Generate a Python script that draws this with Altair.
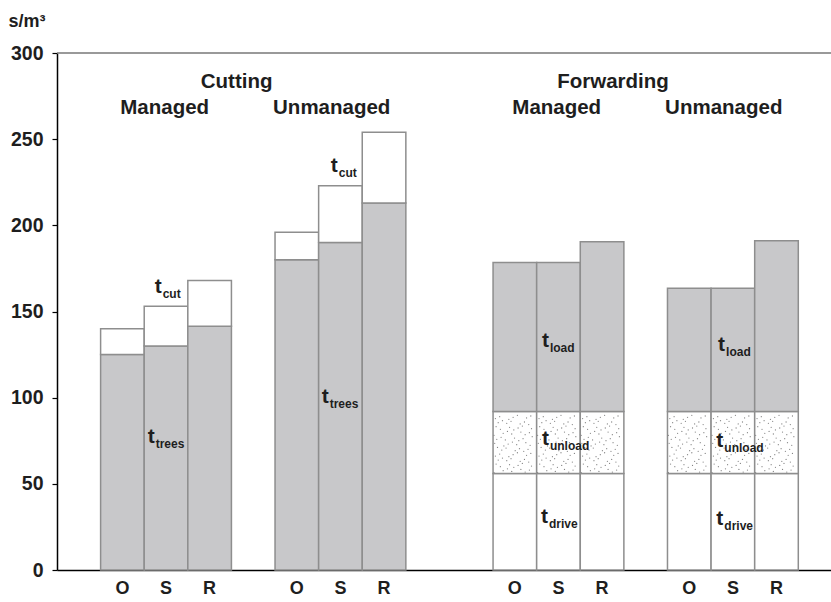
import altair as alt
import pandas as pd
import numpy as np

# ---- values (s/m3) ----
conditions = ["O", "S", "R"]

cut_managed_trees = [125, 130, 141.5]
cut_managed_cut = [15, 23, 26.5]
cut_unmanaged_trees = [180, 190, 213]
cut_unmanaged_cut = [16, 33, 41]

fwd_managed_drive = [56, 56, 56]
fwd_managed_unload = [36, 36, 36]
fwd_managed_load = [86.5, 86.5, 98.5]
fwd_unmanaged_drive = [56, 56, 56]
fwd_unmanaged_unload = [36, 36, 36]
fwd_unmanaged_load = [71.5, 71.5, 99]

# first bar slot of each group on the x axis (one slot = one bar width)
group_start = [1, 5, 10, 14]

# stacked segments, bottom to top, for each group
groups = [
    [("trees", cut_managed_trees), ("cut", cut_managed_cut)],
    [("trees", cut_unmanaged_trees), ("cut", cut_unmanaged_cut)],
    [("drive", fwd_managed_drive), ("unload", fwd_managed_unload), ("load", fwd_managed_load)],
    [("drive", fwd_unmanaged_drive), ("unload", fwd_unmanaged_unload), ("load", fwd_unmanaged_load)],
]

# label anchors: (x slot, y value, subscript)
label_x = [2.08, 2.24, 6.07, 6.28, 11.12, 11.12, 11.10, 15.16, 15.12, 15.12]
label_y = [73.5, 160.5, 97, 231, 129.5, 72.5, 27.5, 127, 71.5, 26]
label_sub = ["trees", "cut", "trees", "cut", "load", "unload", "drive", "load", "unload", "drive"]

# group headings
head_x = [4.12, 2.47, 6.30, 12.75, 11.46, 15.29]
head_y = [279.5, 264.5, 264.5, 279.5, 264.5, 264.5]
head_text = ["Cutting", "Managed", "Unmanaged", "Forwarding", "Managed", "Unmanaged"]

W, H = 774, 517
X_MAX = 17.75
FONT = "Liberation Sans"
TEXT = "#1e1e1e"
EDGE = "#8e8e8e"

rows = []
for start, segs in zip(group_start, groups):
    for k, cond in enumerate(conditions):
        base = 0.0
        for name, vals in segs:
            v = vals[k]
            rows.append(dict(x0=start + k, x1=start + k + 1, y0=base, y1=base + v,
                             seg=name, cond=cond))
            base += v
bars = pd.DataFrame(rows)

# stipple texture for the unloading segments
dots = []
for _, r in bars[bars.seg == "unload"].iterrows():
    xs = np.arange(r.x0 + 0.07, r.x1 - 0.05, 0.13)
    ys = np.arange(r.y0 + 1.6, r.y1 - 1.0, 3.1)
    for i, xv in enumerate(xs):
        for j, yv in enumerate(ys):
            ox = (((i * 5 + j * 3) % 7) - 3) * 0.016
            oy = (((i * 3 + j * 5) % 7) - 3) * 0.38
            dots.append(dict(x=xv + ox, y=yv + oy))
dots = pd.DataFrame(dots)

ticks = pd.DataFrame(dict(
    x=[s + k + 0.5 for s in group_start for k in range(3)],
    t=conditions * len(group_start),
))
labels = pd.DataFrame(dict(x=label_x, y=label_y, sub=label_sub))
heads = pd.DataFrame(dict(x=head_x, y=head_y, text=head_text))

xs = alt.Scale(domain=[0, X_MAX], nice=False, zero=False)
ys = alt.Scale(domain=[0, 300], nice=False)

seg_color = alt.Scale(
    domain=["trees", "cut", "drive", "unload", "load"],
    range=["#c8c8ca", "#ffffff", "#ffffff", "#ffffff", "#c8c8ca"],
)

bar_layer = alt.Chart(bars).mark_rect(stroke=EDGE, strokeWidth=1.5).encode(
    x=alt.X("x0:Q", scale=xs, axis=alt.Axis(labels=False, ticks=False, grid=False,
                                             domainColor="#000", domainWidth=1.5, title=None)),
    x2="x1:Q",
    y=alt.Y("y0:Q", scale=ys, axis=alt.Axis(
        values=[0, 50, 100, 150, 200, 250, 300], grid=False,
        domainColor="#000", domainWidth=1.5, tickColor="#000", tickWidth=1.2, tickSize=5,
        labelFont=FONT, labelFontWeight="bold", labelFontSize=19.5, labelColor=TEXT,
        labelPadding=9,
        title="s/m³", titleAngle=0, titleX=-49, titleY=-27, titleAlign="left",
        titleBaseline="alphabetic", titleFont=FONT, titleFontWeight="bold",
        titleFontSize=18, titleColor=TEXT)),
    y2="y1:Q",
    fill=alt.Fill("seg:N", scale=seg_color, legend=None),
)

dot_layer = alt.Chart(dots).mark_circle(size=1.6, color="#858585", opacity=1).encode(
    x=alt.X("x:Q", scale=xs), y=alt.Y("y:Q", scale=ys)
)

top_rule = alt.Chart().mark_rule(color="#777777", strokeWidth=1.5).encode(
    y=alt.datum(300, scale=ys)
)

tick_layer = alt.Chart(ticks).mark_text(
    font=FONT, fontWeight="bold", fontSize=18, color=TEXT, baseline="middle"
).encode(x=alt.X("x:Q", scale=xs), y=alt.value(H + 19), text="t:N")

t_layer = alt.Chart(labels).mark_text(
    font=FONT, fontWeight="bold", fontSize=21, color=TEXT, align="left", baseline="alphabetic"
).encode(x=alt.X("x:Q", scale=xs), y=alt.Y("y:Q", scale=ys), text=alt.value("t"))

sub_layer = alt.Chart(labels).mark_text(
    font=FONT, fontWeight="bold", fontSize=12, color=TEXT, align="left", baseline="alphabetic",
    dx=8, dy=5
).encode(x=alt.X("x:Q", scale=xs), y=alt.Y("y:Q", scale=ys), text="sub:N")

head_layer = alt.Chart(heads).mark_text(
    font=FONT, fontWeight="bold", fontSize=20.5, color=TEXT, align="center", baseline="alphabetic"
).encode(x=alt.X("x:Q", scale=xs), y=alt.Y("y:Q", scale=ys), text="text:N")

chart = alt.layer(
    bar_layer, dot_layer, top_rule, tick_layer, t_layer, sub_layer, head_layer
).properties(
    width=W, height=H,
    autosize=alt.AutoSizeParams(type="none"),
    padding={"left": 57, "top": 53, "right": 0, "bottom": 32},
    background="#ffffff",
).configure_view(stroke=None)

chart.save("out.html", embed_options={"renderer": "svg", "actions": False})
